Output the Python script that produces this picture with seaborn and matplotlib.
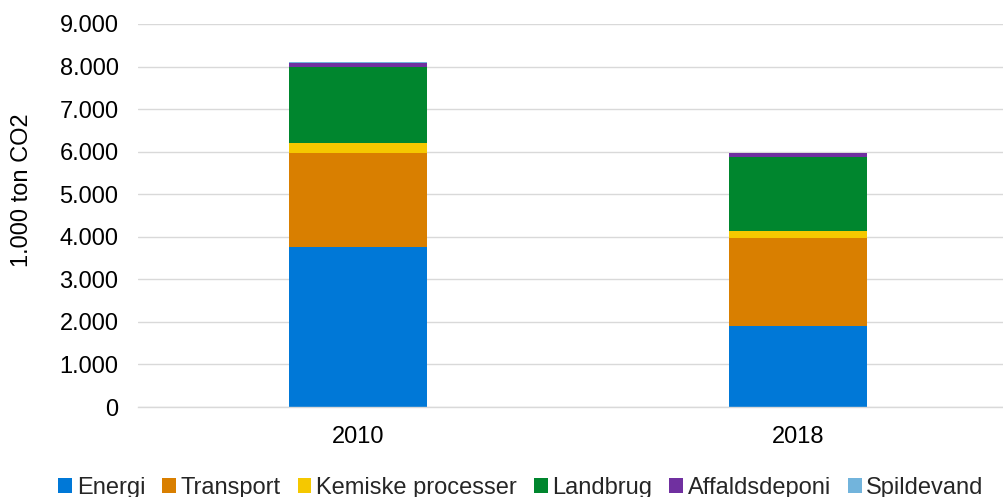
import matplotlib
matplotlib.use("Agg")
import matplotlib.pyplot as plt
from matplotlib.patches import Patch
from matplotlib.ticker import FuncFormatter, MultipleLocator
import numpy as np
import pandas as pd
import seaborn as sns

years = ["2010", "2018"]
sectors = ["Energi", "Transport", "Kemiske processer", "Landbrug", "Affaldsdeponi", "Spildevand"]
energi = [3770, 1910]
transport = [2190, 2060]
kemiske = [240, 170]
landbrug = [1780, 1735]
affald = [110, 90]
spildevand = [15, 15]

colors = ["#0078D7", "#D97F00", "#F5C800", "#00862E", "#7030A0", "#72B4DC"]

sns.set_theme(style="white")
plt.rcParams["font.family"] = ["Liberation Sans", "DejaVu Sans"]

FS = 17

series = [energi, transport, kemiske, landbrug, affald, spildevand]
cum = np.cumsum(np.array(series, dtype=float), axis=0)

fig = plt.figure(figsize=(10.04, 4.97), dpi=100)
ax = fig.add_axes([138 / 1004, 90 / 497, 880 / 1004, 383 / 497])

# stacked bars: draw cumulative totals from the top layer down
for i in range(len(sectors) - 1, -1, -1):
    df = pd.DataFrame({"year": years, "value": cum[i]})
    sns.barplot(data=df, x="year", y="value", color=colors[i], width=0.314,
                saturation=1, ax=ax, linewidth=0, zorder=2)

ax.set_ylim(0, 9000)
ax.set_xlim(-0.5, 1.5)
ax.yaxis.set_major_locator(MultipleLocator(1000))
ax.yaxis.set_major_formatter(FuncFormatter(lambda v, p: f"{int(v):,}".replace(",", ".")))
ax.grid(axis="y", color="#D9D9D9", linewidth=1, zorder=0)
ax.set_axisbelow(True)
for s in ["top", "right", "left"]:
    ax.spines[s].set_visible(False)
ax.spines["bottom"].set_color("#D9D9D9")
ax.spines["bottom"].set_linewidth(1)
ax.tick_params(axis="both", length=0, labelsize=FS, colors="#000000")
ax.tick_params(axis="y", pad=14)
ax.tick_params(axis="x", pad=14)
ax.set_xlabel("")
ax.set_ylabel("")
fig.text(22 / 1004, 1 - 190 / 497, "1.000 ton CO2", rotation=90, ha="center",
         va="center", fontsize=FS, color="#000000")

handles = [Patch(facecolor=c, edgecolor="none", label=l) for c, l in zip(colors, sectors)]
fig.legend(handles=handles, loc="center", bbox_to_anchor=(521 / 1004, 1 - 488 / 497), ncol=6,
           frameon=False, fontsize=FS, handlelength=0.58, handleheight=0.58,
           handletextpad=0.2, columnspacing=0.72, borderaxespad=0, borderpad=0)

fig.savefig("out.png", dpi=100)
